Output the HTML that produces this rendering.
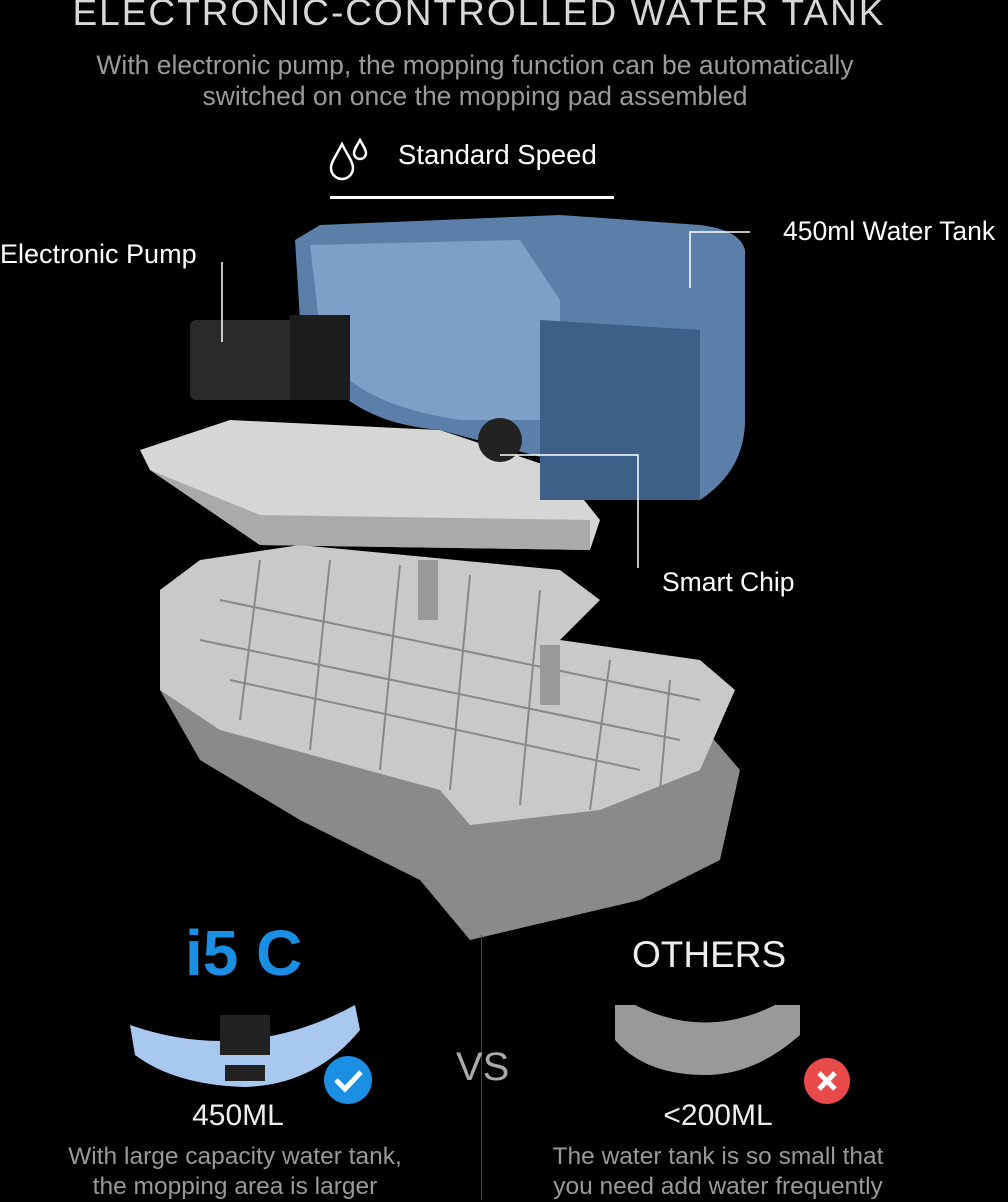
<!DOCTYPE html>
<html><head><meta charset="utf-8"><style>
*{margin:0;padding:0;box-sizing:border-box}
body{width:1008px;height:1200px;background:#000;position:relative;overflow:hidden;font-family:"Liberation Sans",sans-serif;color:#ddd}
.t{position:absolute;white-space:nowrap}
.c{text-align:center}
</style></head><body>
<div class="t c" style="left:0;width:958px;top:-8px;font-size:37px;letter-spacing:2px;color:#d8d8d8">ELECTRONIC-CONTROLLED WATER TANK</div>
<div class="t c" style="left:0;width:950px;top:50px;font-size:26.5px;color:#9a9a9a;line-height:31px">With electronic pump, the mopping function can be automatically<br>switched on once the mopping pad assembled</div>
<svg class="t" style="left:328px;top:138px" width="44" height="46" viewBox="0 0 44 46">
<path d="M14 6 C8 18 3 24 3 30 a11 11 0 0 0 22 0 C25 24 20 18 14 6Z" fill="none" stroke="#fff" stroke-width="2.5"/>
<path d="M32 2 C28 9 26 12 26 15 a6 6 0 0 0 12 0 C38 12 36 9 32 2Z" fill="none" stroke="#fff" stroke-width="2.5"/>
</svg>
<div class="t" style="left:398px;top:139px;font-size:27.5px;color:#fff">Standard Speed</div>
<div class="t" style="left:330px;top:196px;width:284px;height:3px;background:#fff"></div>
<div class="t" style="left:0;top:239px;font-size:27px;color:#fff">Electronic Pump</div>
<div class="t" style="left:783px;top:216px;font-size:26.5px;color:#fff">450ml Water Tank</div>
<div class="t" style="left:662px;top:567px;font-size:26.5px;color:#fff">Smart Chip</div>
<svg class="t" style="left:0;top:0" width="1008" height="940">
<polygon points="160,690 230,650 680,700 740,770 720,860 640,900 470,940 420,880 300,820 200,760" fill="#8a8a8a"/>
<polygon points="200,560 300,545 560,570 600,600 560,640 700,660 735,690 700,770 600,810 470,825 440,790 330,760 220,730 160,690 160,590" fill="#c9c9c9"/>
<g stroke="#888" stroke-width="2" fill="none">
<path d="M220,600 L700,700 M200,640 L680,740 M230,680 L640,770 M260,560 L240,720 M330,560 L310,750 M400,565 L380,770 M470,575 L450,790 M540,590 L520,805 M610,660 L590,810 M670,680 L660,790"/>
</g>
<polygon points="140,450 230,420 440,430 560,470 600,520 590,550 260,545 150,470" fill="#d6d6d6"/>
<polygon points="150,470 260,545 590,550 590,520 260,515" fill="#aaa"/>
<rect x="418" y="560" width="20" height="60" fill="#999"/>
<rect x="540" y="645" width="20" height="60" fill="#999"/>
<path d="M295,240 L300,320 Q320,420 440,430 L700,500 Q745,470 745,420 L745,250 Q740,230 700,225 L560,215 L320,225 Z" fill="#5b7fa8"/>
<path d="M310,245 L520,240 L560,300 L560,420 L460,420 Q330,400 320,330Z" fill="#7da0c8"/>
<path d="M540,320 L700,330 L700,500 L540,500 Z" fill="#3d5f88"/>
<rect x="190" y="320" width="160" height="80" rx="6" fill="#2a2a2a"/>
<rect x="290" y="315" width="60" height="85" fill="#1c1c1c"/>
<circle cx="500" cy="440" r="22" fill="#222"/>
<g stroke="#fff" stroke-width="1.5" fill="none">
<path d="M222,262 L222,342"/>
<path d="M750,232 L690,232 L690,288"/>
<path d="M500,455 L638,455 L638,568"/>
</g>
</svg>
<div class="t" style="left:185px;top:916px;font-size:64px;font-weight:bold;color:#1a8fe3">i5 C</div>
<div class="t" style="left:632px;top:934px;font-size:37px;color:#eee">OTHERS</div>
<div class="t" style="left:481px;top:935px;width:1px;height:265px;background:#444"></div>
<div class="t" style="left:456px;top:1045px;font-size:40px;color:#aaa">VS</div>
<svg class="t" style="left:125px;top:995px" width="250" height="110">
<path d="M5,30 Q120,70 230,10 L235,35 Q190,90 120,92 Q50,90 10,60Z" fill="#a9c8f0"/>
<rect x="95" y="20" width="50" height="40" fill="#222"/>
<rect x="100" y="70" width="40" height="16" fill="#222"/>
<circle cx="223" cy="85" r="24" fill="#1a8fe3"/>
<path d="M211,85 L220,94 L236,77" stroke="#fff" stroke-width="5" fill="none"/>
</svg>
<svg class="t" style="left:605px;top:995px" width="250" height="110">
<path d="M10,10 L30,10 Q100,45 170,10 L195,10 L195,40 Q150,80 100,80 Q40,80 10,45Z" fill="#999"/>
<circle cx="222" cy="86" r="23" fill="#e84a4a"/>
<path d="M214,78 L230,94 M230,78 L214,94" stroke="#fff" stroke-width="5"/>
</svg>
<div class="t c" style="left:138px;width:200px;top:1099px;font-size:30px;color:#eee">450ML</div>
<div class="t c" style="left:618px;width:200px;top:1099px;font-size:30px;color:#eee">&lt;200ML</div>
<div class="t c" style="left:0;width:470px;top:1142px;font-size:24.5px;color:#999;line-height:30px">With large capacity water tank,<br>the mopping area is larger</div>
<div class="t c" style="left:480px;width:476px;top:1142px;font-size:24.5px;color:#999;line-height:30px">The water tank is so small that<br>you need add water frequently</div>
</body></html>
